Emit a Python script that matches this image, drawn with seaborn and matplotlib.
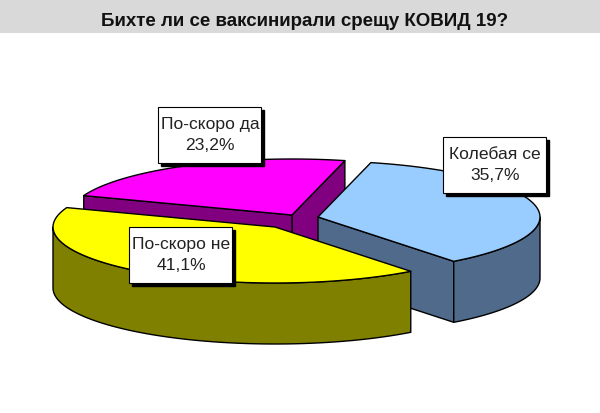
import numpy as np
import matplotlib
matplotlib.use('Agg')
import matplotlib.pyplot as plt
from matplotlib.patches import Rectangle
import seaborn as sns

# data
labels = ['Колебая се', 'По-скоро да', 'По-скоро не']
shares = [35.7, 23.2, 41.1]
title = 'Бихте ли се ваксинирали срещу КОВИД 19?'

# styles / layout in pixels
top_colors = ['#99CCFF', '#FF00FF', '#FFFF00']
side_colors = ['#4F6A8A', '#800080', '#808000']
apex = [(318, 217), (292, 215), (275, 227)]
box_xy = [(443, 137), (158, 107), (129, 227)]
box_wh = (103, 56)
draw_order = [1, 0, 2]
rx, ry, depth = 222, 56, 61
start_angle = -52.3

sns.set_theme(style='white')
plt.rcParams['font.family'] = ['Liberation Sans', 'DejaVu Sans']

fig = plt.figure(figsize=(6, 4.13), dpi=100)
ax = fig.add_axes([0, 0, 1, 1])
ax.set_xlim(0, 600)
ax.set_ylim(413, 0)
ax.axis('off')

ax.add_patch(Rectangle((0, 0), 600, 33, color='#D9D9D9', lw=0))
ax.text(305, 22, title, ha='center', va='center', fontsize=13.5,
        fontweight='bold', color='#111111')

edges = np.cumsum([0] + shares) / 100 * 360 + start_angle


def arc(i, a0, a1):
    t = np.radians(np.linspace(a0, a1, 60))
    return apex[i][0] + rx * np.cos(t), apex[i][1] - ry * np.sin(t)


def face(i, xs, ys, color):
    px = np.r_[xs, xs[::-1]]
    py = np.r_[ys, ys[::-1] + depth]
    ax.fill(px, py, facecolor=color, edgecolor='black', lw=1, joinstyle='round')


for i in draw_order:
    a0, a1 = edges[i], edges[i + 1]
    cx, cy = apex[i]
    # cut faces, only the ones turned to the viewer
    for a in (a0, a1):
        x1, y1 = arc(i, a, a)
        if (a == a0 and np.sin(np.radians(a)) < 0 and np.cos(np.radians(a)) > 0) or \
                (a == a1 and i == 1) or (a == a0 and i == 1):
            face(i, np.array([cx, x1[0]]), np.array([cy, y1[0]]), side_colors[i])
    # outer wall, lower half of the ellipse
    lo = max(a0, 180) if a1 > 180 else a0
    if a1 > 180:
        xs, ys = arc(i, lo, a1)
        face(i, xs, ys, side_colors[i])
    elif a0 < 0:
        xs, ys = arc(i, a0, 0)
        face(i, xs, ys, side_colors[i])
    # top
    xs, ys = arc(i, a0, a1)
    ax.fill(np.r_[cx, xs], np.r_[cy, ys], facecolor=top_colors[i],
            edgecolor='black', lw=1, joinstyle='round')

for i in draw_order:
    bx, by = box_xy[i]
    w, h = box_wh
    ax.add_patch(Rectangle((bx + 3, by + 3), w, h, facecolor='black', edgecolor='black', lw=1))
    ax.add_patch(Rectangle((bx, by), w, h, facecolor='white', edgecolor='black', lw=0.8))
    value = f'{shares[i]:.1f}%'.replace('.', ',')
    ax.text(bx + w / 2 + 0.5, by + h / 2, f'{labels[i]}\n{value}', ha='center', va='center',
            fontsize=12.6, color='#222222', linespacing=1.55)

fig.savefig('out.png', dpi=100)
